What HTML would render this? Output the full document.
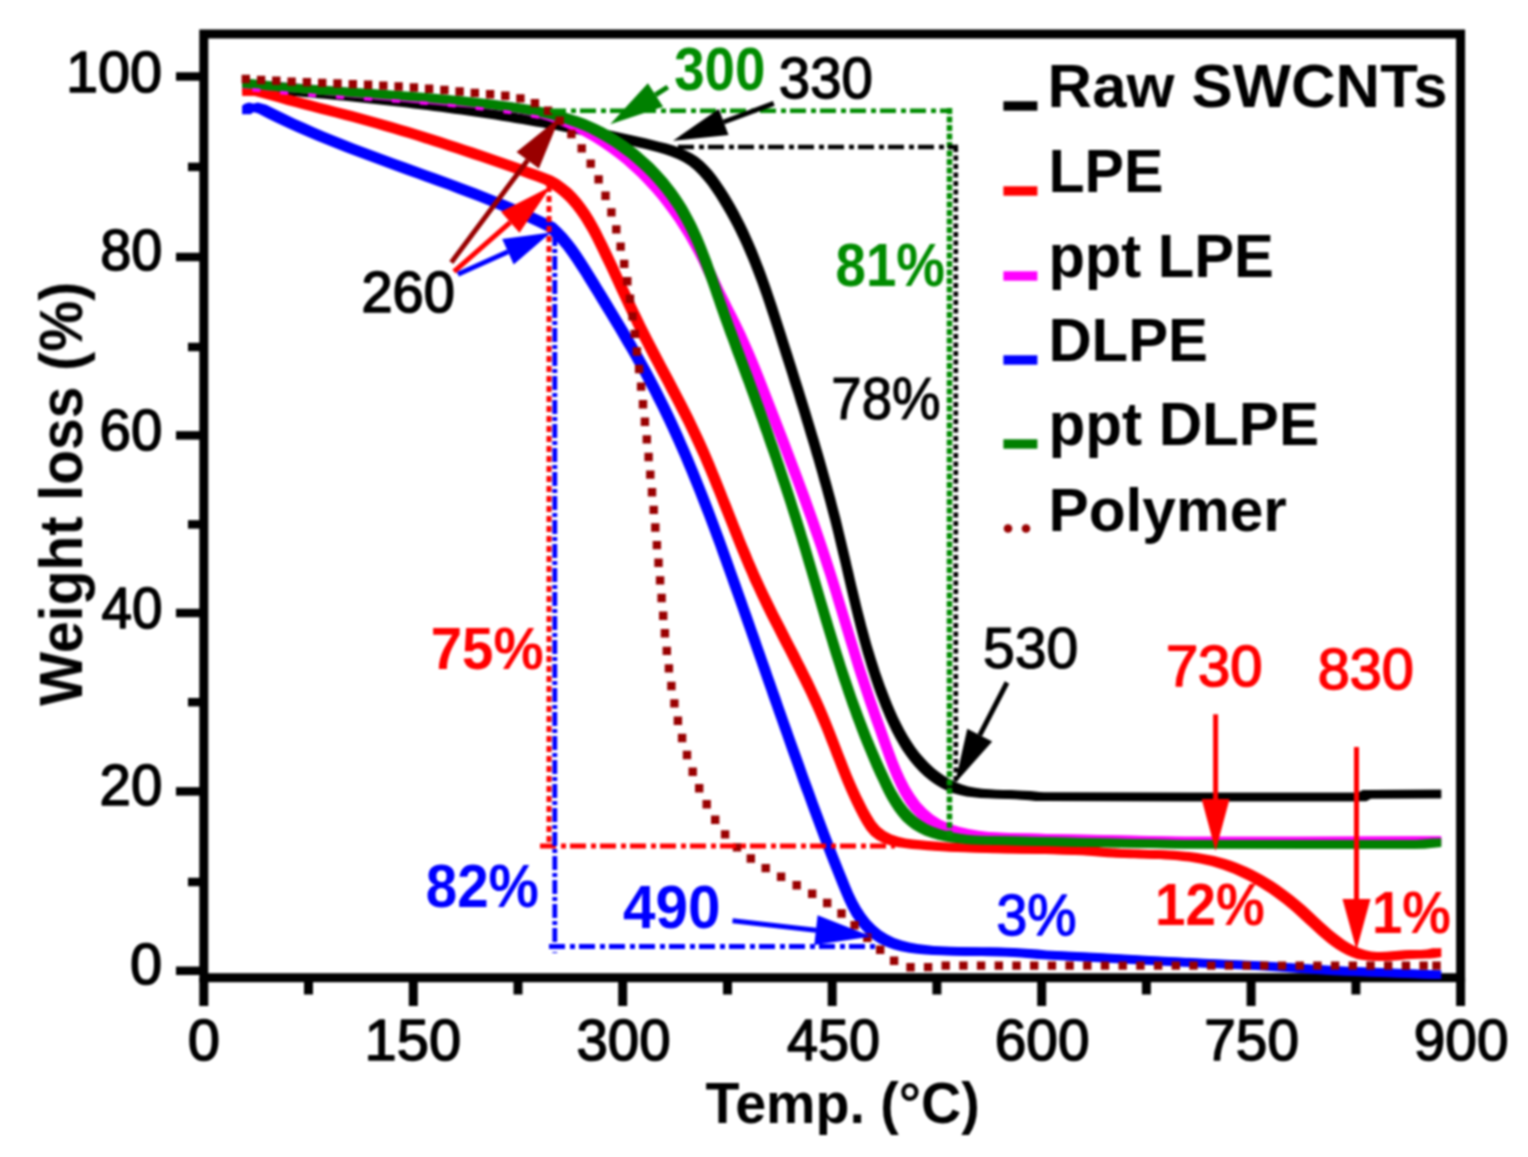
<!DOCTYPE html>
<html><head><meta charset="utf-8"><title>TGA</title>
<style>html,body{margin:0;padding:0;background:#fff}svg{display:block}text{font-family:"Liberation Sans",sans-serif}</style></head><body>
<svg width="1528" height="1157" viewBox="0 0 1528 1157">
<defs><filter id="soft" x="0" y="0" width="100%" height="100%" filterUnits="userSpaceOnUse" color-interpolation-filters="sRGB"><feGaussianBlur stdDeviation="0.9"/></filter></defs>
<rect width="100%" height="100%" fill="#fff"/>
<g filter="url(#soft)">
<rect x="203.8" y="34.0" width="1256.8" height="943.7" fill="none" stroke="#000" stroke-width="9"/>
<line x1="203.8" y1="977.7" x2="203.8" y2="1006.0" stroke="#000" stroke-width="9"/>
<line x1="308.5" y1="977.7" x2="308.5" y2="994.5" stroke="#000" stroke-width="9"/>
<line x1="413.3" y1="977.7" x2="413.3" y2="1006.0" stroke="#000" stroke-width="9"/>
<line x1="518.0" y1="977.7" x2="518.0" y2="994.5" stroke="#000" stroke-width="9"/>
<line x1="622.7" y1="977.7" x2="622.7" y2="1006.0" stroke="#000" stroke-width="9"/>
<line x1="727.5" y1="977.7" x2="727.5" y2="994.5" stroke="#000" stroke-width="9"/>
<line x1="832.2" y1="977.7" x2="832.2" y2="1006.0" stroke="#000" stroke-width="9"/>
<line x1="936.9" y1="977.7" x2="936.9" y2="994.5" stroke="#000" stroke-width="9"/>
<line x1="1041.7" y1="977.7" x2="1041.7" y2="1006.0" stroke="#000" stroke-width="9"/>
<line x1="1146.4" y1="977.7" x2="1146.4" y2="994.5" stroke="#000" stroke-width="9"/>
<line x1="1251.1" y1="977.7" x2="1251.1" y2="1006.0" stroke="#000" stroke-width="9"/>
<line x1="1355.9" y1="977.7" x2="1355.9" y2="994.5" stroke="#000" stroke-width="9"/>
<line x1="1460.6" y1="977.7" x2="1460.6" y2="1006.0" stroke="#000" stroke-width="9"/>
<line x1="176.0" y1="970.8" x2="203.8" y2="970.8" stroke="#000" stroke-width="8.5"/>
<line x1="188.0" y1="882.0" x2="203.8" y2="882.0" stroke="#000" stroke-width="8.5"/>
<line x1="176.0" y1="791.4" x2="203.8" y2="791.4" stroke="#000" stroke-width="8.5"/>
<line x1="188.0" y1="702.2" x2="203.8" y2="702.2" stroke="#000" stroke-width="8.5"/>
<line x1="176.0" y1="613.0" x2="203.8" y2="613.0" stroke="#000" stroke-width="8.5"/>
<line x1="188.0" y1="524.4" x2="203.8" y2="524.4" stroke="#000" stroke-width="8.5"/>
<line x1="176.0" y1="435.4" x2="203.8" y2="435.4" stroke="#000" stroke-width="8.5"/>
<line x1="188.0" y1="347.0" x2="203.8" y2="347.0" stroke="#000" stroke-width="8.5"/>
<line x1="176.0" y1="257.0" x2="203.8" y2="257.0" stroke="#000" stroke-width="8.5"/>
<line x1="188.0" y1="166.9" x2="203.8" y2="166.9" stroke="#000" stroke-width="8.5"/>
<line x1="176.0" y1="76.5" x2="203.8" y2="76.5" stroke="#000" stroke-width="8.5"/>
<g fill="#000"><path d="M250.7,83.2 257.6,83.7 264.5,84.3 271.4,84.8 278.4,85.4 285.2,86.0 292.1,86.6 299.0,87.2 305.9,87.7 312.8,88.4 319.6,89.0 326.5,89.6 333.4,90.2 340.2,90.9 347.1,91.6 353.9,92.2 360.8,92.9 367.6,93.6 374.4,94.3 381.3,95.1 388.1,95.8 394.9,96.6 401.7,97.3 408.5,98.1 415.3,98.9 422.2,99.8 429.0,100.6 435.8,101.5 442.6,102.3 449.4,103.2 456.2,104.1 463.0,105.1 469.7,106.0 476.5,107.0 483.3,107.9 490.1,109.0 496.9,110.0 503.7,111.0 510.5,112.1 517.3,113.2 524.0,114.3 530.8,115.4 537.6,116.6 544.4,117.8 551.2,119.0 558.0,120.2 564.7,121.5 571.5,122.8 578.3,124.1 585.1,125.4 591.9,126.7 598.7,128.1 605.5,129.5 612.3,131.0 619.1,132.5 625.9,134.0 632.7,135.5 639.5,137.0 646.3,138.6 653.1,140.2 659.9,141.9 666.6,143.6 673.3,145.6 679.8,147.8 686.0,150.4 692.0,153.4 697.6,157.0 702.8,161.2 707.6,165.9 712.2,171.1 716.5,176.5 720.5,182.2 724.4,188.0 728.1,193.8 731.7,199.8 735.2,205.8 738.5,211.8 741.7,217.9 744.8,224.1 747.8,230.3 750.6,236.5 753.4,242.8 756.1,249.1 758.7,255.5 761.2,261.9 763.7,268.3 766.1,274.7 768.4,281.2 770.7,287.7 772.9,294.2 775.1,300.8 777.3,307.3 779.4,313.9 781.5,320.4 783.6,327.0 785.7,333.6 787.8,340.2 789.9,346.8 792.0,353.3 794.1,359.9 796.2,366.5 798.2,373.1 800.3,379.7 802.4,386.2 804.4,392.8 806.5,399.4 808.5,406.0 810.5,412.6 812.5,419.2 814.5,425.8 816.5,432.4 818.5,439.0 820.4,445.6 822.4,452.2 824.3,458.8 826.2,465.4 828.0,472.1 829.9,478.7 831.7,485.3 833.5,492.0 835.3,498.6 837.0,505.2 838.8,511.9 840.5,518.6 842.1,525.2 843.7,531.9 845.3,538.6 846.9,545.3 848.5,552.0 850.1,558.7 851.6,565.4 853.2,572.1 854.7,578.7 856.3,585.4 857.9,592.1 859.5,598.8 861.1,605.5 862.8,612.2 864.5,618.8 866.2,625.5 868.0,632.1 869.8,638.7 871.7,645.4 873.7,652.0 875.7,658.6 877.8,665.1 879.9,671.7 882.2,678.3 884.5,684.8 887.0,691.3 889.5,697.8 892.1,704.2 894.8,710.6 897.7,717.0 900.8,723.3 904.0,729.4 907.4,735.4 911.0,741.3 914.8,747.0 918.9,752.4 923.3,757.6 927.9,762.6 932.9,767.3 938.1,771.6 943.7,775.6 949.5,779.1 955.5,782.1 961.9,784.6 968.4,786.5 975.2,787.8 982.1,788.7 989.1,789.3 996.1,789.7 1003.1,789.9 1010.1,790.1 1017.1,790.4 1023.9,790.7 1030.8,791.1 1037.6,791.7 1044.3,792.5 1204.3,792.7 1366.3,792.7 1371.3,790.0 1441.3,789.7 1432.7,798.3 1362.7,798.6 1357.7,801.3 1195.7,801.3 1035.7,801.1 1029.0,800.3 1022.2,799.7 1015.3,799.3 1008.5,799.0 1001.5,798.7 994.5,798.5 987.5,798.3 980.5,797.9 973.5,797.3 966.6,796.4 959.8,795.1 953.3,793.2 946.9,790.7 940.9,787.7 935.1,784.2 929.5,780.2 924.3,775.9 919.3,771.2 914.7,766.2 910.3,761.0 906.2,755.6 902.4,749.9 898.8,744.0 895.4,738.0 892.2,731.9 889.1,725.6 886.2,719.2 883.5,712.8 880.9,706.4 878.4,699.9 875.9,693.4 873.6,686.9 871.3,680.3 869.2,673.7 867.1,667.2 865.1,660.6 863.1,654.0 861.2,647.3 859.4,640.7 857.6,634.1 855.9,627.4 854.2,620.8 852.5,614.1 850.9,607.4 849.3,600.7 847.7,594.0 846.1,587.3 844.6,580.7 843.0,574.0 841.5,567.3 839.9,560.6 838.3,553.9 836.7,547.2 835.1,540.5 833.5,533.8 831.9,527.2 830.2,520.5 828.4,513.8 826.7,507.2 824.9,500.6 823.1,493.9 821.3,487.3 819.4,480.7 817.6,474.0 815.7,467.4 813.8,460.8 811.8,454.2 809.9,447.6 807.9,441.0 805.9,434.4 803.9,427.8 801.9,421.2 799.9,414.6 797.9,408.0 795.8,401.4 793.8,394.8 791.7,388.3 789.6,381.7 787.6,375.1 785.5,368.5 783.4,361.9 781.3,355.4 779.2,348.8 777.1,342.2 775.0,335.6 772.9,329.0 770.8,322.5 768.7,315.9 766.5,309.4 764.3,302.8 762.1,296.3 759.8,289.8 757.5,283.3 755.1,276.9 752.6,270.5 750.1,264.1 747.5,257.7 744.8,251.4 742.0,245.1 739.2,238.9 736.2,232.7 733.1,226.5 729.9,220.4 726.6,214.4 723.1,208.4 719.5,202.4 715.8,196.6 711.9,190.8 707.9,185.1 703.6,179.7 699.0,174.5 694.2,169.8 689.0,165.6 683.4,162.0 677.4,159.0 671.2,156.4 664.7,154.2 658.0,152.2 651.3,150.5 644.5,148.8 637.7,147.2 630.9,145.6 624.1,144.1 617.3,142.6 610.5,141.1 603.7,139.6 596.9,138.1 590.1,136.7 583.3,135.3 576.5,134.0 569.7,132.7 562.9,131.4 556.1,130.1 549.4,128.8 542.6,127.6 535.8,126.4 529.0,125.2 522.2,124.0 515.4,122.9 508.7,121.8 501.9,120.7 495.1,119.6 488.3,118.6 481.5,117.6 474.7,116.5 467.9,115.6 461.1,114.6 454.4,113.7 447.6,112.7 440.8,111.8 434.0,110.9 427.2,110.1 420.4,109.2 413.6,108.4 406.7,107.5 399.9,106.7 393.1,105.9 386.3,105.2 379.5,104.4 372.7,103.7 365.8,102.9 359.0,102.2 352.2,101.5 345.3,100.8 338.5,100.2 331.6,99.5 324.8,98.8 317.9,98.2 311.0,97.6 304.2,97.0 297.3,96.3 290.4,95.8 283.5,95.2 276.6,94.6 269.8,94.0 262.8,93.4 255.9,92.9 249.0,92.3 242.1,91.8Z"/><path d="M242.1,83.2 249.0,83.7 255.9,84.3 262.8,84.8 269.8,85.4 276.6,86.0 283.5,86.6 290.4,87.2 297.3,87.7 304.2,88.4 311.0,89.0 317.9,89.6 324.8,90.2 331.6,90.9 338.5,91.6 345.3,92.2 352.2,92.9 359.0,93.6 365.8,94.3 372.7,95.1 379.5,95.8 386.3,96.6 393.1,97.3 399.9,98.1 406.7,98.9 413.6,99.8 420.4,100.6 427.2,101.5 434.0,102.3 440.8,103.2 447.6,104.1 454.4,105.1 461.1,106.0 467.9,107.0 474.7,107.9 481.5,109.0 488.3,110.0 495.1,111.0 501.9,112.1 508.7,113.2 515.4,114.3 522.2,115.4 529.0,116.6 535.8,117.8 542.6,119.0 549.4,120.2 556.1,121.5 562.9,122.8 569.7,124.1 576.5,125.4 583.3,126.7 590.1,128.1 596.9,129.5 603.7,131.0 610.5,132.5 617.3,134.0 624.1,135.5 630.9,137.0 637.7,138.6 644.5,140.2 651.3,141.9 658.0,143.6 664.7,145.6 671.2,147.8 677.4,150.4 683.4,153.4 689.0,157.0 694.2,161.2 699.0,165.9 703.6,171.1 707.9,176.5 711.9,182.2 715.8,188.0 719.5,193.8 723.1,199.8 726.6,205.8 729.9,211.8 733.1,217.9 736.2,224.1 739.2,230.3 742.0,236.5 744.8,242.8 747.5,249.1 750.1,255.5 752.6,261.9 755.1,268.3 757.5,274.7 759.8,281.2 762.1,287.7 764.3,294.2 766.5,300.8 768.7,307.3 770.8,313.9 772.9,320.4 775.0,327.0 777.1,333.6 779.2,340.2 781.3,346.8 783.4,353.3 785.5,359.9 787.6,366.5 789.6,373.1 791.7,379.7 793.8,386.2 795.8,392.8 797.9,399.4 799.9,406.0 801.9,412.6 803.9,419.2 805.9,425.8 807.9,432.4 809.9,439.0 811.8,445.6 813.8,452.2 815.7,458.8 817.6,465.4 819.4,472.1 821.3,478.7 823.1,485.3 824.9,492.0 826.7,498.6 828.4,505.2 830.2,511.9 831.9,518.6 833.5,525.2 835.1,531.9 836.7,538.6 838.3,545.3 839.9,552.0 841.5,558.7 843.0,565.4 844.6,572.1 846.1,578.7 847.7,585.4 849.3,592.1 850.9,598.8 852.5,605.5 854.2,612.2 855.9,618.8 857.6,625.5 859.4,632.1 861.2,638.7 863.1,645.4 865.1,652.0 867.1,658.6 869.2,665.1 871.3,671.7 873.6,678.3 875.9,684.8 878.4,691.3 880.9,697.8 883.5,704.2 886.2,710.6 889.1,717.0 892.2,723.3 895.4,729.4 898.8,735.4 902.4,741.3 906.2,747.0 910.3,752.4 914.7,757.6 919.3,762.6 924.3,767.3 929.5,771.6 935.1,775.6 940.9,779.1 946.9,782.1 953.3,784.6 959.8,786.5 966.6,787.8 973.5,788.7 980.5,789.3 987.5,789.7 994.5,789.9 1001.5,790.1 1008.5,790.4 1015.3,790.7 1022.2,791.1 1029.0,791.7 1035.7,792.5 1195.7,792.7 1357.7,792.7 1362.7,790.0 1432.7,789.7 1441.3,798.3 1371.3,798.6 1366.3,801.3 1204.3,801.3 1044.3,801.1 1037.6,800.3 1030.8,799.7 1023.9,799.3 1017.1,799.0 1010.1,798.7 1003.1,798.5 996.1,798.3 989.1,797.9 982.1,797.3 975.2,796.4 968.4,795.1 961.9,793.2 955.5,790.7 949.5,787.7 943.7,784.2 938.1,780.2 932.9,775.9 927.9,771.2 923.3,766.2 918.9,761.0 914.8,755.6 911.0,749.9 907.4,744.0 904.0,738.0 900.8,731.9 897.7,725.6 894.8,719.2 892.1,712.8 889.5,706.4 887.0,699.9 884.5,693.4 882.2,686.9 879.9,680.3 877.8,673.7 875.7,667.2 873.7,660.6 871.7,654.0 869.8,647.3 868.0,640.7 866.2,634.1 864.5,627.4 862.8,620.8 861.1,614.1 859.5,607.4 857.9,600.7 856.3,594.0 854.7,587.3 853.2,580.7 851.6,574.0 850.1,567.3 848.5,560.6 846.9,553.9 845.3,547.2 843.7,540.5 842.1,533.8 840.5,527.2 838.8,520.5 837.0,513.8 835.3,507.2 833.5,500.6 831.7,493.9 829.9,487.3 828.0,480.7 826.2,474.0 824.3,467.4 822.4,460.8 820.4,454.2 818.5,447.6 816.5,441.0 814.5,434.4 812.5,427.8 810.5,421.2 808.5,414.6 806.5,408.0 804.4,401.4 802.4,394.8 800.3,388.3 798.2,381.7 796.2,375.1 794.1,368.5 792.0,361.9 789.9,355.4 787.8,348.8 785.7,342.2 783.6,335.6 781.5,329.0 779.4,322.5 777.3,315.9 775.1,309.4 772.9,302.8 770.7,296.3 768.4,289.8 766.1,283.3 763.7,276.9 761.2,270.5 758.7,264.1 756.1,257.7 753.4,251.4 750.6,245.1 747.8,238.9 744.8,232.7 741.7,226.5 738.5,220.4 735.2,214.4 731.7,208.4 728.1,202.4 724.4,196.6 720.5,190.8 716.5,185.1 712.2,179.7 707.6,174.5 702.8,169.8 697.6,165.6 692.0,162.0 686.0,159.0 679.8,156.4 673.3,154.2 666.6,152.2 659.9,150.5 653.1,148.8 646.3,147.2 639.5,145.6 632.7,144.1 625.9,142.6 619.1,141.1 612.3,139.6 605.5,138.1 598.7,136.7 591.9,135.3 585.1,134.0 578.3,132.7 571.5,131.4 564.7,130.1 558.0,128.8 551.2,127.6 544.4,126.4 537.6,125.2 530.8,124.0 524.0,122.9 517.3,121.8 510.5,120.7 503.7,119.6 496.9,118.6 490.1,117.6 483.3,116.5 476.5,115.6 469.7,114.6 463.0,113.7 456.2,112.7 449.4,111.8 442.6,110.9 435.8,110.1 429.0,109.2 422.2,108.4 415.3,107.5 408.5,106.7 401.7,105.9 394.9,105.2 388.1,104.4 381.3,103.7 374.4,102.9 367.6,102.2 360.8,101.5 353.9,100.8 347.1,100.2 340.2,99.5 333.4,98.8 326.5,98.2 319.6,97.6 312.8,97.0 305.9,96.3 299.0,95.8 292.1,95.2 285.2,94.6 278.4,94.0 271.4,93.4 264.5,92.9 257.6,92.3 250.7,91.8Z"/><path d="M242.1,83.2h8.6v8.6h-8.6ZM1432.7,789.7h8.6v8.6h-8.6Z"/></g>
<g fill="#f00"><path d="M250.7,87.2 262.3,87.2 279.3,91.7 287.4,94.0 295.5,96.3 303.6,98.5 311.7,100.6 319.8,102.7 328.0,104.8 336.1,106.9 344.3,109.0 352.4,111.1 360.5,113.2 368.6,115.4 376.7,117.7 384.8,119.9 392.9,122.3 401.0,124.7 409.0,127.1 417.0,129.5 425.1,132.0 433.1,134.6 441.1,137.1 449.1,139.7 457.1,142.3 465.1,144.9 473.1,147.6 481.1,150.3 489.1,153.0 497.0,155.7 505.0,158.4 512.9,161.2 520.8,164.0 528.7,166.9 536.6,169.8 544.5,172.7 552.3,175.7 559.0,179.6 565.1,183.9 570.8,188.6 576.0,193.7 580.8,199.2 585.2,205.0 589.4,211.0 593.3,217.3 597.0,223.7 600.5,230.2 603.8,236.9 607.1,243.6 610.3,250.3 613.5,257.0 616.7,263.7 619.8,270.4 622.9,277.2 626.0,283.9 629.2,290.6 632.3,297.3 635.4,304.0 638.6,310.7 641.8,317.3 645.0,324.0 648.3,330.6 651.7,337.2 655.1,343.8 658.5,350.3 662.0,356.9 665.4,363.5 668.9,370.0 672.4,376.5 675.8,383.1 679.3,389.7 682.7,396.2 686.1,402.8 689.5,409.4 692.8,416.0 696.0,422.7 699.2,429.4 702.3,436.1 705.4,442.8 708.4,449.5 711.3,456.3 714.2,463.1 717.0,470.0 719.8,476.8 722.6,483.7 725.3,490.5 728.0,497.4 730.8,504.3 733.5,511.2 736.2,518.0 738.9,524.9 741.7,531.8 744.4,538.7 747.2,545.5 750.1,552.3 752.9,559.2 755.9,566.0 758.8,572.8 761.9,579.5 765.0,586.2 768.2,592.9 771.4,599.6 774.7,606.3 778.0,612.9 781.4,619.5 784.8,626.1 788.2,632.8 791.6,639.4 795.0,646.0 798.4,652.6 801.7,659.2 805.1,665.8 808.4,672.4 811.7,679.1 814.9,685.7 818.0,692.4 821.1,699.1 824.1,705.8 827.0,712.6 829.9,719.4 832.6,726.2 835.3,733.1 838.0,739.9 840.6,746.8 843.3,753.7 846.0,760.6 848.7,767.5 851.5,774.4 854.4,781.2 857.4,788.0 860.6,794.9 863.9,801.6 867.4,808.4 871.1,815.1 875.1,821.4 879.8,826.9 885.3,831.2 891.5,834.4 898.3,836.7 905.5,838.4 913.0,839.5 920.6,840.3 928.1,841.0 935.7,841.6 943.2,842.2 950.6,842.7 958.1,843.1 965.5,843.4 972.8,843.7 980.2,844.0 987.6,844.2 994.9,844.4 1002.2,844.6 1009.5,844.7 1016.9,844.9 1024.2,845.0 1031.5,845.1 1038.8,845.2 1046.2,845.4 1053.6,845.5 1061.0,845.7 1068.4,845.9 1075.8,846.1 1083.3,846.4 1090.8,846.7 1098.3,847.1 1104.0,847.7 1109.8,848.2 1115.6,848.6 1121.4,848.9 1127.2,849.2 1133.0,849.4 1138.9,849.6 1144.8,849.7 1150.7,849.9 1156.5,850.1 1162.4,850.3 1168.3,850.5 1174.1,850.8 1180.0,851.2 1185.8,851.7 1191.6,852.3 1197.4,853.0 1203.1,853.9 1208.8,854.9 1214.4,856.1 1220.0,857.5 1225.6,859.1 1231.1,860.8 1236.5,862.8 1241.9,865.0 1247.2,867.3 1252.5,869.8 1257.7,872.4 1262.8,875.3 1267.8,878.2 1272.8,881.3 1277.7,884.5 1282.6,887.9 1287.3,891.4 1292.0,895.0 1296.6,898.7 1301.1,902.4 1305.5,906.3 1309.8,910.3 1314.1,914.3 1318.3,918.2 1322.6,922.2 1326.9,926.1 1331.3,929.9 1335.7,933.6 1340.3,937.1 1345.0,940.4 1349.9,943.4 1355.0,946.2 1360.2,948.5 1365.7,950.3 1371.3,951.4 1377.0,952.0 1382.9,952.2 1388.8,952.1 1394.7,951.8 1400.7,951.3 1406.6,950.7 1412.5,950.3 1418.3,950.0 1423.9,949.9 1429.6,949.9 1435.3,949.5 1441.3,948.3 1432.7,956.9 1426.7,958.1 1421.0,958.5 1415.3,958.5 1409.7,958.6 1403.9,958.9 1398.0,959.3 1392.1,959.9 1386.1,960.4 1380.2,960.7 1374.3,960.8 1368.4,960.6 1362.7,960.0 1357.1,958.9 1351.6,957.1 1346.4,954.8 1341.3,952.0 1336.4,949.0 1331.7,945.7 1327.1,942.2 1322.7,938.5 1318.3,934.7 1314.0,930.8 1309.7,926.8 1305.5,922.9 1301.2,918.9 1296.9,914.9 1292.5,911.0 1288.0,907.3 1283.4,903.6 1278.7,900.0 1274.0,896.5 1269.1,893.1 1264.2,889.9 1259.2,886.8 1254.2,883.9 1249.1,881.0 1243.9,878.4 1238.6,875.9 1233.3,873.6 1227.9,871.4 1222.5,869.4 1217.0,867.7 1211.4,866.1 1205.8,864.7 1200.2,863.5 1194.5,862.5 1188.8,861.6 1183.0,860.9 1177.2,860.3 1171.4,859.8 1165.5,859.4 1159.7,859.1 1153.8,858.9 1147.9,858.7 1142.1,858.5 1136.2,858.3 1130.3,858.2 1124.4,858.0 1118.6,857.8 1112.8,857.5 1107.0,857.2 1101.2,856.8 1095.4,856.3 1089.7,855.7 1082.2,855.3 1074.7,855.0 1067.2,854.7 1059.8,854.5 1052.4,854.3 1045.0,854.1 1037.6,854.0 1030.2,853.8 1022.9,853.7 1015.6,853.6 1008.3,853.5 1000.9,853.3 993.6,853.2 986.3,853.0 979.0,852.8 971.6,852.6 964.2,852.3 956.9,852.0 949.5,851.7 942.0,851.3 934.6,850.8 927.1,850.2 919.5,849.6 912.0,848.9 904.4,848.1 896.9,847.0 889.7,845.3 882.9,843.0 876.7,839.8 871.2,835.5 866.5,830.0 862.5,823.7 858.8,817.0 855.3,810.2 852.0,803.5 848.8,796.6 845.8,789.8 842.9,783.0 840.1,776.1 837.4,769.2 834.7,762.3 832.0,755.4 829.4,748.5 826.7,741.7 824.0,734.8 821.3,728.0 818.4,721.2 815.5,714.4 812.5,707.7 809.4,701.0 806.3,694.3 803.1,687.7 799.8,681.0 796.5,674.4 793.1,667.8 789.8,661.2 786.4,654.6 783.0,648.0 779.6,641.4 776.2,634.7 772.8,628.1 769.4,621.5 766.1,614.9 762.8,608.2 759.6,601.5 756.4,594.8 753.3,588.1 750.2,581.4 747.3,574.6 744.3,567.8 741.5,560.9 738.6,554.1 735.8,547.3 733.1,540.4 730.3,533.5 727.6,526.6 724.9,519.8 722.2,512.9 719.4,506.0 716.7,499.1 714.0,492.3 711.2,485.4 708.4,478.6 705.6,471.7 702.7,464.9 699.8,458.1 696.8,451.4 693.7,444.7 690.6,438.0 687.4,431.3 684.2,424.6 680.9,418.0 677.5,411.4 674.1,404.8 670.7,398.3 667.2,391.7 663.8,385.1 660.3,378.6 656.8,372.1 653.4,365.5 649.9,358.9 646.5,352.4 643.1,345.8 639.7,339.2 636.4,332.6 633.2,325.9 630.0,319.3 626.8,312.6 623.7,305.9 620.6,299.2 617.4,292.5 614.3,285.8 611.2,279.0 608.1,272.3 604.9,265.6 601.7,258.9 598.5,252.2 595.2,245.5 591.9,238.8 588.4,232.3 584.7,225.9 580.8,219.6 576.6,213.6 572.2,207.8 567.4,202.3 562.2,197.2 556.5,192.5 550.4,188.2 543.7,184.3 535.9,181.3 528.0,178.4 520.1,175.5 512.2,172.6 504.3,169.8 496.4,167.0 488.4,164.3 480.5,161.6 472.5,158.9 464.5,156.2 456.5,153.5 448.5,150.9 440.5,148.3 432.5,145.7 424.5,143.2 416.5,140.6 408.4,138.1 400.4,135.7 392.4,133.3 384.3,130.9 376.2,128.5 368.1,126.3 360.0,124.0 351.9,121.8 343.8,119.7 335.7,117.6 327.5,115.5 319.4,113.4 311.2,111.3 303.1,109.2 295.0,107.1 286.9,104.9 278.8,102.6 270.7,100.3 253.7,95.8 242.1,95.8Z"/><path d="M242.1,87.2 253.7,87.2 270.7,91.7 278.8,94.0 286.9,96.3 295.0,98.5 303.1,100.6 311.2,102.7 319.4,104.8 327.5,106.9 335.7,109.0 343.8,111.1 351.9,113.2 360.0,115.4 368.1,117.7 376.2,119.9 384.3,122.3 392.4,124.7 400.4,127.1 408.4,129.5 416.5,132.0 424.5,134.6 432.5,137.1 440.5,139.7 448.5,142.3 456.5,144.9 464.5,147.6 472.5,150.3 480.5,153.0 488.4,155.7 496.4,158.4 504.3,161.2 512.2,164.0 520.1,166.9 528.0,169.8 535.9,172.7 543.7,175.7 550.4,179.6 556.5,183.9 562.2,188.6 567.4,193.7 572.2,199.2 576.6,205.0 580.8,211.0 584.7,217.3 588.4,223.7 591.9,230.2 595.2,236.9 598.5,243.6 601.7,250.3 604.9,257.0 608.1,263.7 611.2,270.4 614.3,277.2 617.4,283.9 620.6,290.6 623.7,297.3 626.8,304.0 630.0,310.7 633.2,317.3 636.4,324.0 639.7,330.6 643.1,337.2 646.5,343.8 649.9,350.3 653.4,356.9 656.8,363.5 660.3,370.0 663.8,376.5 667.2,383.1 670.7,389.7 674.1,396.2 677.5,402.8 680.9,409.4 684.2,416.0 687.4,422.7 690.6,429.4 693.7,436.1 696.8,442.8 699.8,449.5 702.7,456.3 705.6,463.1 708.4,470.0 711.2,476.8 714.0,483.7 716.7,490.5 719.4,497.4 722.2,504.3 724.9,511.2 727.6,518.0 730.3,524.9 733.1,531.8 735.8,538.7 738.6,545.5 741.5,552.3 744.3,559.2 747.3,566.0 750.2,572.8 753.3,579.5 756.4,586.2 759.6,592.9 762.8,599.6 766.1,606.3 769.4,612.9 772.8,619.5 776.2,626.1 779.6,632.8 783.0,639.4 786.4,646.0 789.8,652.6 793.1,659.2 796.5,665.8 799.8,672.4 803.1,679.1 806.3,685.7 809.4,692.4 812.5,699.1 815.5,705.8 818.4,712.6 821.3,719.4 824.0,726.2 826.7,733.1 829.4,739.9 832.0,746.8 834.7,753.7 837.4,760.6 840.1,767.5 842.9,774.4 845.8,781.2 848.8,788.0 852.0,794.9 855.3,801.6 858.8,808.4 862.5,815.1 866.5,821.4 871.2,826.9 876.7,831.2 882.9,834.4 889.7,836.7 896.9,838.4 904.4,839.5 912.0,840.3 919.5,841.0 927.1,841.6 934.6,842.2 942.0,842.7 949.5,843.1 956.9,843.4 964.2,843.7 971.6,844.0 979.0,844.2 986.3,844.4 993.6,844.6 1000.9,844.7 1008.3,844.9 1015.6,845.0 1022.9,845.1 1030.2,845.2 1037.6,845.4 1045.0,845.5 1052.4,845.7 1059.8,845.9 1067.2,846.1 1074.7,846.4 1082.2,846.7 1089.7,847.1 1095.4,847.7 1101.2,848.2 1107.0,848.6 1112.8,848.9 1118.6,849.2 1124.4,849.4 1130.3,849.6 1136.2,849.7 1142.1,849.9 1147.9,850.1 1153.8,850.3 1159.7,850.5 1165.5,850.8 1171.4,851.2 1177.2,851.7 1183.0,852.3 1188.8,853.0 1194.5,853.9 1200.2,854.9 1205.8,856.1 1211.4,857.5 1217.0,859.1 1222.5,860.8 1227.9,862.8 1233.3,865.0 1238.6,867.3 1243.9,869.8 1249.1,872.4 1254.2,875.3 1259.2,878.2 1264.2,881.3 1269.1,884.5 1274.0,887.9 1278.7,891.4 1283.4,895.0 1288.0,898.7 1292.5,902.4 1296.9,906.3 1301.2,910.3 1305.5,914.3 1309.7,918.2 1314.0,922.2 1318.3,926.1 1322.7,929.9 1327.1,933.6 1331.7,937.1 1336.4,940.4 1341.3,943.4 1346.4,946.2 1351.6,948.5 1357.1,950.3 1362.7,951.4 1368.4,952.0 1374.3,952.2 1380.2,952.1 1386.1,951.8 1392.1,951.3 1398.0,950.7 1403.9,950.3 1409.7,950.0 1415.3,949.9 1421.0,949.9 1426.7,949.5 1432.7,948.3 1441.3,956.9 1435.3,958.1 1429.6,958.5 1423.9,958.5 1418.3,958.6 1412.5,958.9 1406.6,959.3 1400.7,959.9 1394.7,960.4 1388.8,960.7 1382.9,960.8 1377.0,960.6 1371.3,960.0 1365.7,958.9 1360.2,957.1 1355.0,954.8 1349.9,952.0 1345.0,949.0 1340.3,945.7 1335.7,942.2 1331.3,938.5 1326.9,934.7 1322.6,930.8 1318.3,926.8 1314.1,922.9 1309.8,918.9 1305.5,914.9 1301.1,911.0 1296.6,907.3 1292.0,903.6 1287.3,900.0 1282.6,896.5 1277.7,893.1 1272.8,889.9 1267.8,886.8 1262.8,883.9 1257.7,881.0 1252.5,878.4 1247.2,875.9 1241.9,873.6 1236.5,871.4 1231.1,869.4 1225.6,867.7 1220.0,866.1 1214.4,864.7 1208.8,863.5 1203.1,862.5 1197.4,861.6 1191.6,860.9 1185.8,860.3 1180.0,859.8 1174.1,859.4 1168.3,859.1 1162.4,858.9 1156.5,858.7 1150.7,858.5 1144.8,858.3 1138.9,858.2 1133.0,858.0 1127.2,857.8 1121.4,857.5 1115.6,857.2 1109.8,856.8 1104.0,856.3 1098.3,855.7 1090.8,855.3 1083.3,855.0 1075.8,854.7 1068.4,854.5 1061.0,854.3 1053.6,854.1 1046.2,854.0 1038.8,853.8 1031.5,853.7 1024.2,853.6 1016.9,853.5 1009.5,853.3 1002.2,853.2 994.9,853.0 987.6,852.8 980.2,852.6 972.8,852.3 965.5,852.0 958.1,851.7 950.6,851.3 943.2,850.8 935.7,850.2 928.1,849.6 920.6,848.9 913.0,848.1 905.5,847.0 898.3,845.3 891.5,843.0 885.3,839.8 879.8,835.5 875.1,830.0 871.1,823.7 867.4,817.0 863.9,810.2 860.6,803.5 857.4,796.6 854.4,789.8 851.5,783.0 848.7,776.1 846.0,769.2 843.3,762.3 840.6,755.4 838.0,748.5 835.3,741.7 832.6,734.8 829.9,728.0 827.0,721.2 824.1,714.4 821.1,707.7 818.0,701.0 814.9,694.3 811.7,687.7 808.4,681.0 805.1,674.4 801.7,667.8 798.4,661.2 795.0,654.6 791.6,648.0 788.2,641.4 784.8,634.7 781.4,628.1 778.0,621.5 774.7,614.9 771.4,608.2 768.2,601.5 765.0,594.8 761.9,588.1 758.8,581.4 755.9,574.6 752.9,567.8 750.1,560.9 747.2,554.1 744.4,547.3 741.7,540.4 738.9,533.5 736.2,526.6 733.5,519.8 730.8,512.9 728.0,506.0 725.3,499.1 722.6,492.3 719.8,485.4 717.0,478.6 714.2,471.7 711.3,464.9 708.4,458.1 705.4,451.4 702.3,444.7 699.2,438.0 696.0,431.3 692.8,424.6 689.5,418.0 686.1,411.4 682.7,404.8 679.3,398.3 675.8,391.7 672.4,385.1 668.9,378.6 665.4,372.1 662.0,365.5 658.5,358.9 655.1,352.4 651.7,345.8 648.3,339.2 645.0,332.6 641.8,325.9 638.6,319.3 635.4,312.6 632.3,305.9 629.2,299.2 626.0,292.5 622.9,285.8 619.8,279.0 616.7,272.3 613.5,265.6 610.3,258.9 607.1,252.2 603.8,245.5 600.5,238.8 597.0,232.3 593.3,225.9 589.4,219.6 585.2,213.6 580.8,207.8 576.0,202.3 570.8,197.2 565.1,192.5 559.0,188.2 552.3,184.3 544.5,181.3 536.6,178.4 528.7,175.5 520.8,172.6 512.9,169.8 505.0,167.0 497.0,164.3 489.1,161.6 481.1,158.9 473.1,156.2 465.1,153.5 457.1,150.9 449.1,148.3 441.1,145.7 433.1,143.2 425.1,140.6 417.0,138.1 409.0,135.7 401.0,133.3 392.9,130.9 384.8,128.5 376.7,126.3 368.6,124.0 360.5,121.8 352.4,119.7 344.3,117.6 336.1,115.5 328.0,113.4 319.8,111.3 311.7,109.2 303.6,107.1 295.5,104.9 287.4,102.6 279.3,100.3 262.3,95.8 250.7,95.8Z"/><path d="M242.1,87.2h8.6v8.6h-8.6ZM1432.7,948.3h8.6v8.6h-8.6Z"/></g>
<g fill="#f0f"><path d="M250.7,79.7 260.4,80.5 270.0,81.3 279.7,82.1 289.3,82.9 298.9,83.7 308.5,84.5 318.1,85.3 327.7,86.1 337.3,86.9 346.9,87.8 356.4,88.6 366.0,89.4 375.6,90.2 385.2,91.1 394.8,91.9 404.3,92.7 413.9,93.5 423.5,94.3 433.1,95.2 442.8,96.0 452.4,96.8 462.1,97.6 471.7,98.4 481.4,99.2 491.1,100.1 500.7,101.1 510.4,102.3 519.9,103.7 529.4,105.4 538.8,107.3 548.1,109.7 557.3,112.5 566.3,115.7 575.2,119.3 584.0,123.4 592.5,127.8 600.9,132.7 609.1,137.8 617.1,143.3 624.9,149.1 632.4,155.2 639.6,161.6 646.7,168.2 653.4,175.1 659.9,182.2 666.2,189.5 672.2,197.1 678.0,204.8 683.5,212.7 688.8,220.8 693.8,229.0 698.6,237.4 703.2,245.9 707.5,254.5 711.6,263.3 715.6,272.0 719.6,280.8 723.7,289.5 728.0,298.1 732.3,306.7 736.7,315.3 741.0,323.9 745.1,332.6 749.1,341.4 753.0,350.2 756.7,359.1 760.4,368.0 764.0,377.0 767.5,386.0 771.0,395.0 774.5,404.0 778.0,413.0 781.5,422.0 785.0,431.0 788.5,440.0 791.9,449.0 795.3,458.0 798.7,467.0 802.1,476.0 805.4,485.0 808.8,494.1 812.0,503.1 815.3,512.2 818.5,521.3 821.7,530.4 824.8,539.5 827.9,548.7 830.9,557.8 833.9,567.0 836.8,576.2 839.7,585.5 842.5,594.8 845.3,604.0 848.1,613.3 850.9,622.6 853.7,631.8 856.5,641.0 859.3,650.2 862.1,659.4 865.0,668.5 868.0,677.5 871.0,686.5 874.0,695.4 877.2,704.4 880.3,713.4 883.6,722.4 886.8,731.6 890.1,740.9 893.5,750.3 897.0,759.7 900.8,769.0 904.9,778.0 909.4,786.7 914.4,794.8 920.0,802.4 926.2,809.1 933.2,815.0 941.1,819.9 949.7,823.8 959.0,826.8 968.8,829.1 978.9,830.8 989.2,831.9 999.5,832.6 1009.7,833.0 1019.6,833.2 1029.0,833.4 1037.9,833.6 1046.1,834.0 1104.3,835.0 1184.3,836.7 1304.3,836.7 1441.3,836.2 1432.7,844.8 1295.7,845.3 1175.7,845.3 1095.7,843.6 1037.5,842.6 1029.3,842.2 1020.4,842.0 1011.0,841.8 1001.1,841.6 990.9,841.2 980.6,840.5 970.3,839.4 960.2,837.7 950.4,835.4 941.1,832.4 932.5,828.5 924.6,823.6 917.6,817.7 911.4,811.0 905.8,803.4 900.8,795.3 896.3,786.6 892.2,777.6 888.4,768.3 884.9,758.9 881.5,749.5 878.2,740.2 875.0,731.0 871.7,722.0 868.6,713.0 865.4,704.0 862.4,695.1 859.4,686.1 856.4,677.1 853.5,668.0 850.7,658.8 847.9,649.6 845.1,640.4 842.3,631.2 839.5,621.9 836.7,612.6 833.9,603.4 831.1,594.1 828.2,584.8 825.3,575.6 822.3,566.4 819.3,557.3 816.2,548.1 813.1,539.0 809.9,529.9 806.7,520.8 803.4,511.7 800.2,502.7 796.8,493.6 793.5,484.6 790.1,475.6 786.7,466.6 783.3,457.6 779.9,448.6 776.4,439.6 772.9,430.6 769.4,421.6 765.9,412.6 762.4,403.6 758.9,394.6 755.4,385.6 751.8,376.6 748.1,367.7 744.4,358.8 740.5,350.0 736.5,341.2 732.4,332.5 728.1,323.9 723.7,315.3 719.4,306.7 715.1,298.1 711.0,289.4 707.0,280.6 703.0,271.9 698.9,263.1 694.6,254.5 690.0,246.0 685.2,237.6 680.2,229.4 674.9,221.3 669.4,213.4 663.6,205.7 657.6,198.1 651.3,190.8 644.8,183.7 638.1,176.8 631.0,170.2 623.8,163.8 616.3,157.7 608.5,151.9 600.5,146.4 592.3,141.3 583.9,136.4 575.4,132.0 566.6,127.9 557.7,124.3 548.7,121.1 539.5,118.3 530.2,115.9 520.8,114.0 511.3,112.3 501.8,110.9 492.1,109.7 482.5,108.7 472.8,107.8 463.1,107.0 453.5,106.2 443.8,105.4 434.2,104.6 424.5,103.8 414.9,102.9 405.3,102.1 395.7,101.3 386.2,100.5 376.6,99.7 367.0,98.8 357.4,98.0 347.8,97.2 338.3,96.4 328.7,95.5 319.1,94.7 309.5,93.9 299.9,93.1 290.3,92.3 280.7,91.5 271.1,90.7 261.4,89.9 251.8,89.1 242.1,88.3Z"/><path d="M242.1,79.7 251.8,80.5 261.4,81.3 271.1,82.1 280.7,82.9 290.3,83.7 299.9,84.5 309.5,85.3 319.1,86.1 328.7,86.9 338.3,87.8 347.8,88.6 357.4,89.4 367.0,90.2 376.6,91.1 386.2,91.9 395.7,92.7 405.3,93.5 414.9,94.3 424.5,95.2 434.2,96.0 443.8,96.8 453.5,97.6 463.1,98.4 472.8,99.2 482.5,100.1 492.1,101.1 501.8,102.3 511.3,103.7 520.8,105.4 530.2,107.3 539.5,109.7 548.7,112.5 557.7,115.7 566.6,119.3 575.4,123.4 583.9,127.8 592.3,132.7 600.5,137.8 608.5,143.3 616.3,149.1 623.8,155.2 631.0,161.6 638.1,168.2 644.8,175.1 651.3,182.2 657.6,189.5 663.6,197.1 669.4,204.8 674.9,212.7 680.2,220.8 685.2,229.0 690.0,237.4 694.6,245.9 698.9,254.5 703.0,263.3 707.0,272.0 711.0,280.8 715.1,289.5 719.4,298.1 723.7,306.7 728.1,315.3 732.4,323.9 736.5,332.6 740.5,341.4 744.4,350.2 748.1,359.1 751.8,368.0 755.4,377.0 758.9,386.0 762.4,395.0 765.9,404.0 769.4,413.0 772.9,422.0 776.4,431.0 779.9,440.0 783.3,449.0 786.7,458.0 790.1,467.0 793.5,476.0 796.8,485.0 800.2,494.1 803.4,503.1 806.7,512.2 809.9,521.3 813.1,530.4 816.2,539.5 819.3,548.7 822.3,557.8 825.3,567.0 828.2,576.2 831.1,585.5 833.9,594.8 836.7,604.0 839.5,613.3 842.3,622.6 845.1,631.8 847.9,641.0 850.7,650.2 853.5,659.4 856.4,668.5 859.4,677.5 862.4,686.5 865.4,695.4 868.6,704.4 871.7,713.4 875.0,722.4 878.2,731.6 881.5,740.9 884.9,750.3 888.4,759.7 892.2,769.0 896.3,778.0 900.8,786.7 905.8,794.8 911.4,802.4 917.6,809.1 924.6,815.0 932.5,819.9 941.1,823.8 950.4,826.8 960.2,829.1 970.3,830.8 980.6,831.9 990.9,832.6 1001.1,833.0 1011.0,833.2 1020.4,833.4 1029.3,833.6 1037.5,834.0 1095.7,835.0 1175.7,836.7 1295.7,836.7 1432.7,836.2 1441.3,844.8 1304.3,845.3 1184.3,845.3 1104.3,843.6 1046.1,842.6 1037.9,842.2 1029.0,842.0 1019.6,841.8 1009.7,841.6 999.5,841.2 989.2,840.5 978.9,839.4 968.8,837.7 959.0,835.4 949.7,832.4 941.1,828.5 933.2,823.6 926.2,817.7 920.0,811.0 914.4,803.4 909.4,795.3 904.9,786.6 900.8,777.6 897.0,768.3 893.5,758.9 890.1,749.5 886.8,740.2 883.6,731.0 880.3,722.0 877.2,713.0 874.0,704.0 871.0,695.1 868.0,686.1 865.0,677.1 862.1,668.0 859.3,658.8 856.5,649.6 853.7,640.4 850.9,631.2 848.1,621.9 845.3,612.6 842.5,603.4 839.7,594.1 836.8,584.8 833.9,575.6 830.9,566.4 827.9,557.3 824.8,548.1 821.7,539.0 818.5,529.9 815.3,520.8 812.0,511.7 808.8,502.7 805.4,493.6 802.1,484.6 798.7,475.6 795.3,466.6 791.9,457.6 788.5,448.6 785.0,439.6 781.5,430.6 778.0,421.6 774.5,412.6 771.0,403.6 767.5,394.6 764.0,385.6 760.4,376.6 756.7,367.7 753.0,358.8 749.1,350.0 745.1,341.2 741.0,332.5 736.7,323.9 732.3,315.3 728.0,306.7 723.7,298.1 719.6,289.4 715.6,280.6 711.6,271.9 707.5,263.1 703.2,254.5 698.6,246.0 693.8,237.6 688.8,229.4 683.5,221.3 678.0,213.4 672.2,205.7 666.2,198.1 659.9,190.8 653.4,183.7 646.7,176.8 639.6,170.2 632.4,163.8 624.9,157.7 617.1,151.9 609.1,146.4 600.9,141.3 592.5,136.4 584.0,132.0 575.2,127.9 566.3,124.3 557.3,121.1 548.1,118.3 538.8,115.9 529.4,114.0 519.9,112.3 510.4,110.9 500.7,109.7 491.1,108.7 481.4,107.8 471.7,107.0 462.1,106.2 452.4,105.4 442.8,104.6 433.1,103.8 423.5,102.9 413.9,102.1 404.3,101.3 394.8,100.5 385.2,99.7 375.6,98.8 366.0,98.0 356.4,97.2 346.9,96.4 337.3,95.5 327.7,94.7 318.1,93.9 308.5,93.1 298.9,92.3 289.3,91.5 279.7,90.7 270.0,89.9 260.4,89.1 250.7,88.3Z"/><path d="M242.1,79.7h8.6v8.6h-8.6ZM1432.7,836.2h8.6v8.6h-8.6Z"/></g>
<g fill="#00f"><path d="M250.7,105.7 253.3,103.7 257.7,102.5 266.3,104.7 275.9,109.6 285.6,114.3 295.3,118.9 305.1,123.3 315.0,127.7 324.9,131.9 334.9,135.9 344.9,139.9 354.9,143.9 365.0,147.7 375.1,151.5 385.2,155.2 395.3,158.9 405.4,162.6 415.6,166.3 425.7,169.9 435.8,173.6 446.0,177.3 456.1,181.0 466.1,184.8 476.2,188.6 486.2,192.5 496.2,196.5 506.2,200.6 516.1,204.7 525.9,209.0 535.7,213.4 545.4,218.0 555.1,222.7 561.0,228.3 566.5,234.1 571.7,240.2 576.5,246.6 581.0,253.1 585.4,259.8 589.7,266.5 593.9,273.3 598.1,280.1 602.3,287.0 606.5,293.8 610.6,300.6 614.8,307.5 619.0,314.4 623.1,321.2 627.2,328.1 631.2,335.1 635.3,342.0 639.3,349.0 643.2,356.0 647.1,363.0 651.0,370.0 654.7,377.1 658.5,384.2 662.1,391.3 665.7,398.4 669.2,405.6 672.7,412.8 676.1,420.1 679.4,427.3 682.7,434.6 685.9,441.9 689.1,449.2 692.2,456.6 695.3,463.9 698.3,471.3 701.3,478.7 704.3,486.2 707.2,493.6 710.1,501.1 713.0,508.5 715.8,516.0 718.6,523.5 721.4,531.0 724.2,538.5 726.9,546.1 729.6,553.6 732.3,561.1 735.0,568.7 737.7,576.3 740.4,583.8 743.1,591.4 745.8,598.9 748.4,606.5 751.1,614.1 753.8,621.7 756.4,629.2 759.1,636.8 761.7,644.4 764.4,651.9 767.0,659.5 769.7,667.1 772.3,674.7 775.0,682.2 777.6,689.8 780.3,697.3 782.9,704.9 785.6,712.4 788.2,720.0 790.9,727.5 793.5,735.0 796.2,742.6 798.9,750.1 801.6,757.6 804.3,765.1 806.9,772.6 809.6,780.1 812.4,787.5 815.1,795.0 817.8,802.5 820.6,810.0 823.4,817.4 826.2,824.9 829.0,832.4 831.9,839.9 834.8,847.4 837.7,854.9 840.7,862.5 843.7,870.0 846.8,877.6 849.9,885.2 853.1,892.7 856.6,900.0 860.5,907.1 864.9,913.7 869.7,919.9 875.1,925.6 881.0,930.5 887.4,934.6 894.4,938.0 901.8,940.6 909.5,942.6 917.5,944.1 925.6,945.1 933.9,945.9 942.1,946.4 950.3,946.7 958.4,947.0 966.4,947.2 974.4,947.3 982.4,947.4 990.3,947.4 998.3,947.6 1006.2,947.7 1014.1,948.0 1022.1,948.4 1030.0,948.9 1038.0,949.6 1046.1,950.5 1098.3,953.1 1154.3,956.2 1204.3,958.7 1264.3,961.4 1342.7,966.6 1441.3,970.5 1432.7,979.1 1334.1,975.2 1255.7,970.0 1195.7,967.3 1145.7,964.8 1089.7,961.7 1037.5,959.1 1029.4,958.2 1021.4,957.5 1013.5,957.0 1005.5,956.6 997.6,956.3 989.7,956.2 981.7,956.0 973.8,956.0 965.8,955.9 957.8,955.8 949.8,955.6 941.7,955.3 933.5,955.0 925.3,954.5 917.0,953.7 908.9,952.7 900.9,951.2 893.2,949.2 885.8,946.6 878.8,943.2 872.4,939.1 866.5,934.2 861.1,928.5 856.3,922.3 851.9,915.7 848.0,908.6 844.5,901.3 841.3,893.8 838.2,886.2 835.1,878.6 832.1,871.1 829.1,863.5 826.2,856.0 823.3,848.5 820.4,841.0 817.6,833.5 814.8,826.0 812.0,818.6 809.2,811.1 806.5,803.6 803.8,796.1 801.0,788.7 798.3,781.2 795.7,773.7 793.0,766.2 790.3,758.7 787.6,751.2 784.9,743.6 782.3,736.1 779.6,728.6 777.0,721.0 774.3,713.5 771.7,705.9 769.0,698.4 766.4,690.8 763.7,683.3 761.1,675.7 758.4,668.1 755.8,660.5 753.1,653.0 750.5,645.4 747.8,637.8 745.2,630.3 742.5,622.7 739.8,615.1 737.2,607.5 734.5,600.0 731.8,592.4 729.1,584.9 726.4,577.3 723.7,569.7 721.0,562.2 718.3,554.7 715.6,547.1 712.8,539.6 710.0,532.1 707.2,524.6 704.4,517.1 701.5,509.7 698.6,502.2 695.7,494.8 692.7,487.3 689.7,479.9 686.7,472.5 683.6,465.2 680.5,457.8 677.3,450.5 674.1,443.2 670.8,435.9 667.5,428.7 664.1,421.4 660.6,414.2 657.1,407.0 653.5,399.9 649.9,392.8 646.1,385.7 642.4,378.6 638.5,371.6 634.6,364.6 630.7,357.6 626.7,350.6 622.6,343.7 618.6,336.7 614.5,329.8 610.4,323.0 606.2,316.1 602.0,309.2 597.9,302.4 593.7,295.6 589.5,288.7 585.3,281.9 581.1,275.1 576.8,268.4 572.4,261.7 567.9,255.2 563.1,248.8 557.9,242.7 552.4,236.9 546.5,231.3 536.8,226.6 527.1,222.0 517.3,217.6 507.5,213.3 497.6,209.2 487.6,205.1 477.6,201.1 467.6,197.2 457.5,193.4 447.5,189.6 437.4,185.9 427.2,182.2 417.1,178.5 407.0,174.9 396.8,171.2 386.7,167.5 376.6,163.8 366.5,160.1 356.4,156.3 346.3,152.5 336.3,148.5 326.3,144.5 316.3,140.5 306.4,136.3 296.5,131.9 286.7,127.5 277.0,122.9 267.3,118.2 257.7,113.3 249.1,111.1 244.7,112.3 242.1,114.3Z"/><path d="M242.1,105.7 244.7,103.7 249.1,102.5 257.7,104.7 267.3,109.6 277.0,114.3 286.7,118.9 296.5,123.3 306.4,127.7 316.3,131.9 326.3,135.9 336.3,139.9 346.3,143.9 356.4,147.7 366.5,151.5 376.6,155.2 386.7,158.9 396.8,162.6 407.0,166.3 417.1,169.9 427.2,173.6 437.4,177.3 447.5,181.0 457.5,184.8 467.6,188.6 477.6,192.5 487.6,196.5 497.6,200.6 507.5,204.7 517.3,209.0 527.1,213.4 536.8,218.0 546.5,222.7 552.4,228.3 557.9,234.1 563.1,240.2 567.9,246.6 572.4,253.1 576.8,259.8 581.1,266.5 585.3,273.3 589.5,280.1 593.7,287.0 597.9,293.8 602.0,300.6 606.2,307.5 610.4,314.4 614.5,321.2 618.6,328.1 622.6,335.1 626.7,342.0 630.7,349.0 634.6,356.0 638.5,363.0 642.4,370.0 646.1,377.1 649.9,384.2 653.5,391.3 657.1,398.4 660.6,405.6 664.1,412.8 667.5,420.1 670.8,427.3 674.1,434.6 677.3,441.9 680.5,449.2 683.6,456.6 686.7,463.9 689.7,471.3 692.7,478.7 695.7,486.2 698.6,493.6 701.5,501.1 704.4,508.5 707.2,516.0 710.0,523.5 712.8,531.0 715.6,538.5 718.3,546.1 721.0,553.6 723.7,561.1 726.4,568.7 729.1,576.3 731.8,583.8 734.5,591.4 737.2,598.9 739.8,606.5 742.5,614.1 745.2,621.7 747.8,629.2 750.5,636.8 753.1,644.4 755.8,651.9 758.4,659.5 761.1,667.1 763.7,674.7 766.4,682.2 769.0,689.8 771.7,697.3 774.3,704.9 777.0,712.4 779.6,720.0 782.3,727.5 784.9,735.0 787.6,742.6 790.3,750.1 793.0,757.6 795.7,765.1 798.3,772.6 801.0,780.1 803.8,787.5 806.5,795.0 809.2,802.5 812.0,810.0 814.8,817.4 817.6,824.9 820.4,832.4 823.3,839.9 826.2,847.4 829.1,854.9 832.1,862.5 835.1,870.0 838.2,877.6 841.3,885.2 844.5,892.7 848.0,900.0 851.9,907.1 856.3,913.7 861.1,919.9 866.5,925.6 872.4,930.5 878.8,934.6 885.8,938.0 893.2,940.6 900.9,942.6 908.9,944.1 917.0,945.1 925.3,945.9 933.5,946.4 941.7,946.7 949.8,947.0 957.8,947.2 965.8,947.3 973.8,947.4 981.7,947.4 989.7,947.6 997.6,947.7 1005.5,948.0 1013.5,948.4 1021.4,948.9 1029.4,949.6 1037.5,950.5 1089.7,953.1 1145.7,956.2 1195.7,958.7 1255.7,961.4 1334.1,966.6 1432.7,970.5 1441.3,979.1 1342.7,975.2 1264.3,970.0 1204.3,967.3 1154.3,964.8 1098.3,961.7 1046.1,959.1 1038.0,958.2 1030.0,957.5 1022.1,957.0 1014.1,956.6 1006.2,956.3 998.3,956.2 990.3,956.0 982.4,956.0 974.4,955.9 966.4,955.8 958.4,955.6 950.3,955.3 942.1,955.0 933.9,954.5 925.6,953.7 917.5,952.7 909.5,951.2 901.8,949.2 894.4,946.6 887.4,943.2 881.0,939.1 875.1,934.2 869.7,928.5 864.9,922.3 860.5,915.7 856.6,908.6 853.1,901.3 849.9,893.8 846.8,886.2 843.7,878.6 840.7,871.1 837.7,863.5 834.8,856.0 831.9,848.5 829.0,841.0 826.2,833.5 823.4,826.0 820.6,818.6 817.8,811.1 815.1,803.6 812.4,796.1 809.6,788.7 806.9,781.2 804.3,773.7 801.6,766.2 798.9,758.7 796.2,751.2 793.5,743.6 790.9,736.1 788.2,728.6 785.6,721.0 782.9,713.5 780.3,705.9 777.6,698.4 775.0,690.8 772.3,683.3 769.7,675.7 767.0,668.1 764.4,660.5 761.7,653.0 759.1,645.4 756.4,637.8 753.8,630.3 751.1,622.7 748.4,615.1 745.8,607.5 743.1,600.0 740.4,592.4 737.7,584.9 735.0,577.3 732.3,569.7 729.6,562.2 726.9,554.7 724.2,547.1 721.4,539.6 718.6,532.1 715.8,524.6 713.0,517.1 710.1,509.7 707.2,502.2 704.3,494.8 701.3,487.3 698.3,479.9 695.3,472.5 692.2,465.2 689.1,457.8 685.9,450.5 682.7,443.2 679.4,435.9 676.1,428.7 672.7,421.4 669.2,414.2 665.7,407.0 662.1,399.9 658.5,392.8 654.7,385.7 651.0,378.6 647.1,371.6 643.2,364.6 639.3,357.6 635.3,350.6 631.2,343.7 627.2,336.7 623.1,329.8 619.0,323.0 614.8,316.1 610.6,309.2 606.5,302.4 602.3,295.6 598.1,288.7 593.9,281.9 589.7,275.1 585.4,268.4 581.0,261.7 576.5,255.2 571.7,248.8 566.5,242.7 561.0,236.9 555.1,231.3 545.4,226.6 535.7,222.0 525.9,217.6 516.1,213.3 506.2,209.2 496.2,205.1 486.2,201.1 476.2,197.2 466.1,193.4 456.1,189.6 446.0,185.9 435.8,182.2 425.7,178.5 415.6,174.9 405.4,171.2 395.3,167.5 385.2,163.8 375.1,160.1 365.0,156.3 354.9,152.5 344.9,148.5 334.9,144.5 324.9,140.5 315.0,136.3 305.1,131.9 295.3,127.5 285.6,122.9 275.9,118.2 266.3,113.3 257.7,111.1 253.3,112.3 250.7,114.3Z"/><path d="M242.1,105.7h8.6v8.6h-8.6ZM1432.7,970.5h8.6v8.6h-8.6Z"/></g>
<g fill="#008000"><path d="M250.7,79.1 257.4,79.8 264.1,80.5 270.8,81.2 277.5,81.9 284.2,82.5 291.0,83.1 297.7,83.7 304.4,84.2 311.2,84.8 317.9,85.3 324.6,85.8 331.4,86.3 338.1,86.7 344.9,87.2 351.7,87.7 358.4,88.2 365.2,88.6 371.9,89.1 378.7,89.5 385.4,90.0 392.2,90.5 399.0,91.0 405.7,91.5 412.5,92.0 419.2,92.5 426.0,93.0 432.7,93.6 439.5,94.2 446.2,94.8 452.9,95.4 459.7,96.1 466.4,96.7 473.1,97.5 479.8,98.2 486.5,99.0 493.2,99.8 499.9,100.7 506.6,101.6 513.3,102.5 520.0,103.5 526.6,104.5 533.3,105.6 539.9,106.8 546.6,108.1 553.1,109.5 559.7,111.0 566.2,112.8 572.6,114.7 579.0,116.8 585.3,119.1 591.5,121.7 597.6,124.5 603.7,127.6 609.6,130.8 615.5,134.3 621.2,137.9 626.8,141.8 632.3,145.8 637.7,150.0 642.9,154.4 648.0,158.9 653.0,163.6 657.8,168.5 662.4,173.5 666.9,178.6 671.2,183.9 675.3,189.3 679.2,194.8 683.0,200.4 686.5,206.1 689.8,211.9 693.0,217.9 696.0,223.8 698.9,229.9 701.6,236.0 704.2,242.2 706.7,248.5 709.1,254.8 711.5,261.1 713.7,267.5 716.0,273.8 718.2,280.2 720.4,286.6 722.6,293.0 724.8,299.4 727.1,305.8 729.3,312.2 731.6,318.5 733.9,324.9 736.3,331.2 738.6,337.5 740.9,343.9 743.3,350.2 745.6,356.5 748.0,362.9 750.3,369.2 752.7,375.5 755.0,381.9 757.3,388.2 759.6,394.6 761.9,400.9 764.2,407.3 766.5,413.7 768.7,420.1 771.0,426.4 773.2,432.8 775.4,439.2 777.7,445.6 779.9,452.0 782.0,458.4 784.2,464.8 786.3,471.3 788.5,477.7 790.6,484.1 792.7,490.5 794.8,497.0 796.8,503.4 798.9,509.9 800.9,516.3 802.9,522.8 804.9,529.2 806.8,535.7 808.8,542.1 810.7,548.6 812.6,555.1 814.5,561.5 816.4,568.0 818.3,574.5 820.2,581.0 822.1,587.4 824.0,593.9 825.9,600.4 827.8,606.8 829.7,613.3 831.7,619.8 833.6,626.2 835.6,632.7 837.5,639.1 839.5,645.6 841.5,652.0 843.6,658.4 845.6,664.9 847.7,671.3 849.9,677.7 852.0,684.1 854.2,690.5 856.4,696.9 858.7,703.2 861.0,709.6 863.4,715.9 865.8,722.3 868.2,728.6 870.7,734.9 873.3,741.2 875.9,747.5 878.6,753.8 881.3,760.1 884.1,766.3 887.0,772.5 889.9,778.7 892.9,784.9 896.1,790.9 899.6,796.7 903.2,802.2 907.2,807.4 911.5,812.3 916.3,816.7 921.5,820.6 927.1,823.9 933.2,826.8 939.6,829.1 946.3,831.1 953.2,832.6 960.1,833.8 967.1,834.7 974.0,835.4 980.8,835.8 987.4,836.0 993.7,836.1 1098.3,838.3 1184.3,839.9 1304.3,840.1 1424.3,840.1 1441.3,838.4 1432.7,847.0 1415.7,848.7 1295.7,848.7 1175.7,848.5 1089.7,846.9 985.1,844.7 978.8,844.6 972.2,844.4 965.4,844.0 958.5,843.3 951.5,842.4 944.6,841.2 937.7,839.7 931.0,837.7 924.6,835.4 918.5,832.5 912.9,829.2 907.7,825.3 902.9,820.9 898.6,816.0 894.6,810.8 891.0,805.3 887.5,799.5 884.3,793.5 881.3,787.3 878.4,781.1 875.5,774.9 872.7,768.7 870.0,762.4 867.3,756.1 864.7,749.8 862.1,743.5 859.6,737.2 857.2,730.9 854.8,724.5 852.4,718.2 850.1,711.8 847.8,705.5 845.6,699.1 843.4,692.7 841.3,686.3 839.1,679.9 837.0,673.5 835.0,667.0 832.9,660.6 830.9,654.2 828.9,647.7 827.0,641.3 825.0,634.8 823.1,628.4 821.1,621.9 819.2,615.4 817.3,609.0 815.4,602.5 813.5,596.0 811.6,589.6 809.7,583.1 807.8,576.6 805.9,570.1 804.0,563.7 802.1,557.2 800.2,550.7 798.2,544.3 796.3,537.8 794.3,531.4 792.3,524.9 790.3,518.5 788.2,512.0 786.2,505.6 784.1,499.1 782.0,492.7 779.9,486.3 777.7,479.9 775.6,473.4 773.4,467.0 771.3,460.6 769.1,454.2 766.8,447.8 764.6,441.4 762.4,435.0 760.1,428.7 757.9,422.3 755.6,415.9 753.3,409.5 751.0,403.2 748.7,396.8 746.4,390.5 744.1,384.1 741.7,377.8 739.4,371.5 737.0,365.1 734.7,358.8 732.3,352.5 730.0,346.1 727.7,339.8 725.3,333.5 723.0,327.1 720.7,320.8 718.5,314.4 716.2,308.0 714.0,301.6 711.8,295.2 709.6,288.8 707.4,282.4 705.1,276.1 702.9,269.7 700.5,263.4 698.1,257.1 695.6,250.8 693.0,244.6 690.3,238.5 687.4,232.4 684.4,226.5 681.2,220.5 677.9,214.7 674.4,209.0 670.6,203.4 666.7,197.9 662.6,192.5 658.3,187.2 653.8,182.1 649.2,177.1 644.4,172.2 639.4,167.5 634.3,163.0 629.1,158.6 623.7,154.4 618.2,150.4 612.6,146.5 606.9,142.9 601.0,139.4 595.1,136.2 589.0,133.1 582.9,130.3 576.7,127.7 570.4,125.4 564.0,123.3 557.6,121.4 551.1,119.6 544.5,118.1 538.0,116.7 531.3,115.4 524.7,114.2 518.0,113.1 511.4,112.1 504.7,111.1 498.0,110.2 491.3,109.3 484.6,108.4 477.9,107.6 471.2,106.8 464.5,106.1 457.8,105.3 451.1,104.7 444.3,104.0 437.6,103.4 430.9,102.8 424.1,102.2 417.4,101.6 410.6,101.1 403.9,100.6 397.1,100.1 390.4,99.6 383.6,99.1 376.8,98.6 370.1,98.1 363.3,97.7 356.6,97.2 349.8,96.8 343.1,96.3 336.3,95.8 329.5,95.3 322.8,94.9 316.0,94.4 309.3,93.9 302.6,93.4 295.8,92.8 289.1,92.3 282.4,91.7 275.6,91.1 268.9,90.5 262.2,89.8 255.5,89.1 248.8,88.4 242.1,87.7Z"/><path d="M242.1,79.1 248.8,79.8 255.5,80.5 262.2,81.2 268.9,81.9 275.6,82.5 282.4,83.1 289.1,83.7 295.8,84.2 302.6,84.8 309.3,85.3 316.0,85.8 322.8,86.3 329.5,86.7 336.3,87.2 343.1,87.7 349.8,88.2 356.6,88.6 363.3,89.1 370.1,89.5 376.8,90.0 383.6,90.5 390.4,91.0 397.1,91.5 403.9,92.0 410.6,92.5 417.4,93.0 424.1,93.6 430.9,94.2 437.6,94.8 444.3,95.4 451.1,96.1 457.8,96.7 464.5,97.5 471.2,98.2 477.9,99.0 484.6,99.8 491.3,100.7 498.0,101.6 504.7,102.5 511.4,103.5 518.0,104.5 524.7,105.6 531.3,106.8 538.0,108.1 544.5,109.5 551.1,111.0 557.6,112.8 564.0,114.7 570.4,116.8 576.7,119.1 582.9,121.7 589.0,124.5 595.1,127.6 601.0,130.8 606.9,134.3 612.6,137.9 618.2,141.8 623.7,145.8 629.1,150.0 634.3,154.4 639.4,158.9 644.4,163.6 649.2,168.5 653.8,173.5 658.3,178.6 662.6,183.9 666.7,189.3 670.6,194.8 674.4,200.4 677.9,206.1 681.2,211.9 684.4,217.9 687.4,223.8 690.3,229.9 693.0,236.0 695.6,242.2 698.1,248.5 700.5,254.8 702.9,261.1 705.1,267.5 707.4,273.8 709.6,280.2 711.8,286.6 714.0,293.0 716.2,299.4 718.5,305.8 720.7,312.2 723.0,318.5 725.3,324.9 727.7,331.2 730.0,337.5 732.3,343.9 734.7,350.2 737.0,356.5 739.4,362.9 741.7,369.2 744.1,375.5 746.4,381.9 748.7,388.2 751.0,394.6 753.3,400.9 755.6,407.3 757.9,413.7 760.1,420.1 762.4,426.4 764.6,432.8 766.8,439.2 769.1,445.6 771.3,452.0 773.4,458.4 775.6,464.8 777.7,471.3 779.9,477.7 782.0,484.1 784.1,490.5 786.2,497.0 788.2,503.4 790.3,509.9 792.3,516.3 794.3,522.8 796.3,529.2 798.2,535.7 800.2,542.1 802.1,548.6 804.0,555.1 805.9,561.5 807.8,568.0 809.7,574.5 811.6,581.0 813.5,587.4 815.4,593.9 817.3,600.4 819.2,606.8 821.1,613.3 823.1,619.8 825.0,626.2 827.0,632.7 828.9,639.1 830.9,645.6 832.9,652.0 835.0,658.4 837.0,664.9 839.1,671.3 841.3,677.7 843.4,684.1 845.6,690.5 847.8,696.9 850.1,703.2 852.4,709.6 854.8,715.9 857.2,722.3 859.6,728.6 862.1,734.9 864.7,741.2 867.3,747.5 870.0,753.8 872.7,760.1 875.5,766.3 878.4,772.5 881.3,778.7 884.3,784.9 887.5,790.9 891.0,796.7 894.6,802.2 898.6,807.4 902.9,812.3 907.7,816.7 912.9,820.6 918.5,823.9 924.6,826.8 931.0,829.1 937.7,831.1 944.6,832.6 951.5,833.8 958.5,834.7 965.4,835.4 972.2,835.8 978.8,836.0 985.1,836.1 1089.7,838.3 1175.7,839.9 1295.7,840.1 1415.7,840.1 1432.7,838.4 1441.3,847.0 1424.3,848.7 1304.3,848.7 1184.3,848.5 1098.3,846.9 993.7,844.7 987.4,844.6 980.8,844.4 974.0,844.0 967.1,843.3 960.1,842.4 953.2,841.2 946.3,839.7 939.6,837.7 933.2,835.4 927.1,832.5 921.5,829.2 916.3,825.3 911.5,820.9 907.2,816.0 903.2,810.8 899.6,805.3 896.1,799.5 892.9,793.5 889.9,787.3 887.0,781.1 884.1,774.9 881.3,768.7 878.6,762.4 875.9,756.1 873.3,749.8 870.7,743.5 868.2,737.2 865.8,730.9 863.4,724.5 861.0,718.2 858.7,711.8 856.4,705.5 854.2,699.1 852.0,692.7 849.9,686.3 847.7,679.9 845.6,673.5 843.6,667.0 841.5,660.6 839.5,654.2 837.5,647.7 835.6,641.3 833.6,634.8 831.7,628.4 829.7,621.9 827.8,615.4 825.9,609.0 824.0,602.5 822.1,596.0 820.2,589.6 818.3,583.1 816.4,576.6 814.5,570.1 812.6,563.7 810.7,557.2 808.8,550.7 806.8,544.3 804.9,537.8 802.9,531.4 800.9,524.9 798.9,518.5 796.8,512.0 794.8,505.6 792.7,499.1 790.6,492.7 788.5,486.3 786.3,479.9 784.2,473.4 782.0,467.0 779.9,460.6 777.7,454.2 775.4,447.8 773.2,441.4 771.0,435.0 768.7,428.7 766.5,422.3 764.2,415.9 761.9,409.5 759.6,403.2 757.3,396.8 755.0,390.5 752.7,384.1 750.3,377.8 748.0,371.5 745.6,365.1 743.3,358.8 740.9,352.5 738.6,346.1 736.3,339.8 733.9,333.5 731.6,327.1 729.3,320.8 727.1,314.4 724.8,308.0 722.6,301.6 720.4,295.2 718.2,288.8 716.0,282.4 713.7,276.1 711.5,269.7 709.1,263.4 706.7,257.1 704.2,250.8 701.6,244.6 698.9,238.5 696.0,232.4 693.0,226.5 689.8,220.5 686.5,214.7 683.0,209.0 679.2,203.4 675.3,197.9 671.2,192.5 666.9,187.2 662.4,182.1 657.8,177.1 653.0,172.2 648.0,167.5 642.9,163.0 637.7,158.6 632.3,154.4 626.8,150.4 621.2,146.5 615.5,142.9 609.6,139.4 603.7,136.2 597.6,133.1 591.5,130.3 585.3,127.7 579.0,125.4 572.6,123.3 566.2,121.4 559.7,119.6 553.1,118.1 546.6,116.7 539.9,115.4 533.3,114.2 526.6,113.1 520.0,112.1 513.3,111.1 506.6,110.2 499.9,109.3 493.2,108.4 486.5,107.6 479.8,106.8 473.1,106.1 466.4,105.3 459.7,104.7 452.9,104.0 446.2,103.4 439.5,102.8 432.7,102.2 426.0,101.6 419.2,101.1 412.5,100.6 405.7,100.1 399.0,99.6 392.2,99.1 385.4,98.6 378.7,98.1 371.9,97.7 365.2,97.2 358.4,96.8 351.7,96.3 344.9,95.8 338.1,95.3 331.4,94.9 324.6,94.4 317.9,93.9 311.2,93.4 304.4,92.8 297.7,92.3 291.0,91.7 284.2,91.1 277.5,90.5 270.8,89.8 264.1,89.1 257.4,88.4 250.7,87.7Z"/><path d="M242.1,79.1h8.6v8.6h-8.6ZM1432.7,838.4h8.6v8.6h-8.6Z"/></g>
<path d="M241.6,74.8h8.4v8.4h-8.4ZM256.9,75.8h8.4v8.4h-8.4ZM272.1,76.6h8.4v8.4h-8.4ZM287.4,77.4h8.4v8.4h-8.4ZM302.7,78.1h8.4v8.4h-8.4ZM318.0,78.7h8.4v8.4h-8.4ZM333.3,79.3h8.4v8.4h-8.4ZM348.6,79.9h8.4v8.4h-8.4ZM363.9,80.6h8.4v8.4h-8.4ZM379.1,81.4h8.4v8.4h-8.4ZM394.4,82.3h8.4v8.4h-8.4ZM409.7,83.3h8.4v8.4h-8.4ZM424.9,84.5h8.4v8.4h-8.4ZM440.2,85.8h8.4v8.4h-8.4ZM455.4,87.3h8.4v8.4h-8.4ZM470.6,88.7h8.4v8.4h-8.4ZM485.9,90.1h8.4v8.4h-8.4ZM501.1,91.6h8.4v8.4h-8.4ZM516.2,94.2h8.4v8.4h-8.4ZM530.7,98.9h8.4v8.4h-8.4ZM543.9,106.5h8.4v8.4h-8.4ZM555.5,116.5h8.4v8.4h-8.4ZM567.2,129.8h8.4v8.4h-8.4ZM577.5,144.2h8.4v8.4h-8.4ZM586.5,159.4h8.4v8.4h-8.4ZM594.4,175.2h8.4v8.4h-8.4ZM601.3,191.5h8.4v8.4h-8.4ZM607.2,208.2h8.4v8.4h-8.4ZM612.1,225.2h8.4v8.4h-8.4ZM616.4,242.4h8.4v8.4h-8.4ZM620.0,259.7h8.4v8.4h-8.4ZM623.1,277.1h8.4v8.4h-8.4ZM625.8,294.6h8.4v8.4h-8.4ZM628.3,312.2h8.4v8.4h-8.4ZM630.6,329.7h8.4v8.4h-8.4ZM632.7,347.3h8.4v8.4h-8.4ZM634.9,364.8h8.4v8.4h-8.4ZM636.9,382.4h8.4v8.4h-8.4ZM638.8,400.0h8.4v8.4h-8.4ZM640.7,417.6h8.4v8.4h-8.4ZM642.6,435.2h8.4v8.4h-8.4ZM644.4,452.8h8.4v8.4h-8.4ZM646.1,470.4h8.4v8.4h-8.4ZM647.8,488.1h8.4v8.4h-8.4ZM649.5,505.7h8.4v8.4h-8.4ZM651.1,523.3h8.4v8.4h-8.4ZM652.7,540.9h8.4v8.4h-8.4ZM654.3,558.6h8.4v8.4h-8.4ZM655.9,576.2h8.4v8.4h-8.4ZM657.4,593.8h8.4v8.4h-8.4ZM659.0,611.5h8.4v8.4h-8.4ZM660.7,629.1h8.4v8.4h-8.4ZM662.6,646.7h8.4v8.4h-8.4ZM664.7,664.2h8.4v8.4h-8.4ZM667.2,681.8h8.4v8.4h-8.4ZM670.2,699.2h8.4v8.4h-8.4ZM673.7,716.6h8.4v8.4h-8.4ZM677.9,733.8h8.4v8.4h-8.4ZM682.8,750.8h8.4v8.4h-8.4ZM688.5,767.5h8.4v8.4h-8.4ZM695.0,784.0h8.4v8.4h-8.4ZM702.5,800.0h8.4v8.4h-8.4ZM711.0,815.5h8.4v8.4h-8.4ZM720.9,830.2h8.4v8.4h-8.4ZM732.8,843.2h8.4v8.4h-8.4ZM746.6,854.3h8.4v8.4h-8.4ZM761.5,863.9h8.4v8.4h-8.4ZM776.9,872.6h8.4v8.4h-8.4ZM792.5,881.0h8.4v8.4h-8.4ZM808.0,889.5h8.4v8.4h-8.4ZM823.0,898.8h8.4v8.4h-8.4ZM837.3,909.3h8.4v8.4h-8.4ZM850.4,921.1h8.4v8.4h-8.4ZM863.1,933.5h8.4v8.4h-8.4ZM876.0,945.6h8.4v8.4h-8.4ZM889.9,956.5h8.4v8.4h-8.4ZM906.3,963.0h8.4v8.4h-8.4ZM923.9,962.9h8.4v8.4h-8.4ZM941.5,961.4h8.4v8.4h-8.4ZM959.2,961.4h8.4v8.4h-8.4ZM976.9,961.4h8.4v8.4h-8.4ZM994.6,961.4h8.4v8.4h-8.4ZM1012.3,961.4h8.4v8.4h-8.4ZM1030.0,961.4h8.4v8.4h-8.4ZM1047.7,961.4h8.4v8.4h-8.4ZM1065.4,961.4h8.4v8.4h-8.4ZM1083.1,961.4h8.4v8.4h-8.4ZM1100.8,961.4h8.4v8.4h-8.4ZM1118.5,961.4h8.4v8.4h-8.4ZM1136.2,961.4h8.4v8.4h-8.4ZM1153.9,961.4h8.4v8.4h-8.4ZM1171.6,961.4h8.4v8.4h-8.4ZM1189.3,961.4h8.4v8.4h-8.4ZM1207.0,961.4h8.4v8.4h-8.4ZM1224.7,961.4h8.4v8.4h-8.4ZM1242.4,961.4h8.4v8.4h-8.4ZM1260.1,961.4h8.4v8.4h-8.4ZM1277.8,961.4h8.4v8.4h-8.4ZM1295.5,961.4h8.4v8.4h-8.4ZM1313.2,961.4h8.4v8.4h-8.4ZM1330.9,961.4h8.4v8.4h-8.4ZM1348.6,961.4h8.4v8.4h-8.4ZM1366.3,961.4h8.4v8.4h-8.4ZM1384.0,961.4h8.4v8.4h-8.4ZM1401.7,961.4h8.4v8.4h-8.4ZM1419.4,961.4h8.4v8.4h-8.4ZM1432.3,961.4h8.4v8.4h-8.4Z" fill="#990000"/>
<path d="M246.4,89.0 L252.4,89.7 L258.5,90.3 L264.5,91.0 L270.5,91.6 L276.6,92.1 L282.6,92.7 L288.7,93.2 L294.7,93.7 L300.8,94.2 L306.8,94.7 L312.9,95.2 L319.0,95.7 L325.0,96.1 L331.1,96.5 L337.2,97.0 L343.3,97.4 L349.3,97.8 L355.4,98.2 L361.5,98.6 L367.6,99.0 L373.6,99.4 L379.7,99.8 L385.8,100.3 L391.9,100.7 L397.9,101.1 L404.0,101.6 L410.1,102.0 L416.1,102.5 L422.2,103.0 L428.3,103.4 L434.3,104.0 L440.4,104.5 L446.5,105.0 L452.5,105.6 L458.6,106.2 L464.6,106.8 L470.7,107.5 L476.7,108.2 L482.7,108.9 L488.8,109.6 L494.8,110.4 L500.8,111.2 L506.8,112.0 L512.9,112.9 L518.9,113.8 L524.9,114.8 L530.9,115.8 L536.8,116.9 L542.8,118.1" fill="none" stroke="#f0f" stroke-width="3.4" stroke-dasharray="8 20" stroke-dashoffset="-6"/>
<line x1="550.0" y1="110.8" x2="952.0" y2="110.8" stroke="#008c00" stroke-width="4.5" stroke-dasharray="16 5 5 4"/>
<line x1="949.5" y1="108.0" x2="949.5" y2="836.0" stroke="#008c00" stroke-width="5.5" stroke-dasharray="6 2.5"/>
<line x1="678.0" y1="147.0" x2="958.0" y2="147.0" stroke="#000" stroke-width="4.5" stroke-dasharray="16 5 5 4"/>
<line x1="955.8" y1="147.0" x2="955.8" y2="786.0" stroke="#000" stroke-width="4.6" stroke-dasharray="5 3.5"/>
<line x1="540.0" y1="846.0" x2="895.0" y2="846.0" stroke="#f00" stroke-width="4.8" stroke-dasharray="16 5 5 4"/>
<line x1="549.0" y1="186.0" x2="549.0" y2="846.0" stroke="#f00" stroke-width="5" stroke-dasharray="6 4"/>
<line x1="554.8" y1="232.0" x2="554.8" y2="953.0" stroke="#00f" stroke-width="4.8" stroke-dasharray="14 3 4 3"/>
<line x1="549.0" y1="946.5" x2="877.0" y2="946.5" stroke="#00f" stroke-width="4.8" stroke-dasharray="16 5 5 4"/>
<path d="M451.3,262.5 L527.7,160.3" stroke="#990000" stroke-width="5" fill="none"/>
<path d="M560.0,117.0 L538.9,168.6 L516.5,151.9 Z" fill="#990000"/>
<path d="M454.0,271.7 L510.2,222.3" stroke="#f00" stroke-width="5" fill="none"/>
<path d="M550.8,186.6 L519.5,232.8 L501.0,211.7 Z" fill="#f00"/>
<path d="M457.9,274.3 L508.0,251.7" stroke="#00f" stroke-width="5" fill="none"/>
<path d="M550.8,232.4 L513.7,264.5 L502.2,239.0 Z" fill="#00f"/>
<path d="M667.8,87.0 L655.5,94.9" stroke="#008000" stroke-width="5" fill="none"/>
<path d="M610.2,124.3 L647.9,83.2 L663.1,106.7 Z" fill="#008000"/>
<path d="M773.8,103.4 L723.6,122.0" stroke="#000" stroke-width="5" fill="none"/>
<path d="M673.0,140.8 L718.8,108.9 L728.5,135.1 Z" fill="#000"/>
<path d="M1007.0,682.5 L979.8,735.2" stroke="#000" stroke-width="5" fill="none"/>
<path d="M955.0,783.2 L967.3,728.8 L992.2,741.6 Z" fill="#000"/>
<path d="M1215.6,714.3 L1215.6,799.0" stroke="#f00" stroke-width="5" fill="none"/>
<path d="M1215.6,851.0 L1201.6,799.0 L1229.6,799.0 Z" fill="#f00"/>
<path d="M1356.5,746.9 L1356.5,899.0" stroke="#f00" stroke-width="5" fill="none"/>
<path d="M1356.5,950.0 L1342.5,899.0 L1370.5,899.0 Z" fill="#f00"/>
<path d="M732.5,920.8 L816.0,930.2" stroke="#00f" stroke-width="5" fill="none"/>
<path d="M871.6,936.5 L814.3,945.1 L817.6,915.3 Z" fill="#00f"/>
<text transform="translate(361.5,311.6) scale(0.9835,1)" font-size="56.8" fill="#000" stroke="#000" stroke-width="1.7" stroke-linejoin="round">260</text>
<text transform="translate(778.8,98.0) scale(0.9855,1)" font-size="57.2" fill="#000" stroke="#000" stroke-width="1.4" stroke-linejoin="round">330</text>
<text transform="translate(982.9,667.8) scale(0.9984,1)" font-size="57.3" fill="#000" stroke="#000" stroke-width="1.2" stroke-linejoin="round">530</text>
<text transform="translate(831.3,418.7) scale(0.9316,1)" font-size="58.6" fill="#000" stroke="#000" stroke-width="1.2" stroke-linejoin="round">78%</text>
<text transform="translate(674.2,89.8) scale(0.9056,1)" font-size="60.4" fill="#008c00" font-weight="bold">300</text>
<text transform="translate(835.5,285.6) scale(0.9064,1)" font-size="60.3" fill="#008c00" font-weight="bold">81%</text>
<text transform="translate(430.7,668.8) scale(0.9462,1)" font-size="59.6" fill="#f00" font-weight="bold">75%</text>
<text transform="translate(425.7,906.8) scale(0.9380,1)" font-size="60.3" fill="#00f" font-weight="bold">82%</text>
<text transform="translate(623.0,928.4) scale(0.9696,1)" font-size="60.3" fill="#00f" font-weight="bold">490</text>
<text transform="translate(996.4,934.6) scale(0.9617,1)" font-size="57.6" fill="#00f" stroke="#00f" stroke-width="1.4" stroke-linejoin="round">3%</text>
<text transform="translate(1155.1,924.6) scale(0.9258,1)" font-size="59.2" fill="#f00" font-weight="bold">12%</text>
<text transform="translate(1371.9,933.0) scale(0.9223,1)" font-size="59.2" fill="#f00" font-weight="bold">1%</text>
<text transform="translate(1165.9,685.7) scale(0.9991,1)" font-size="58.0" fill="#f00" stroke="#f00" stroke-width="1.6" stroke-linejoin="round">730</text>
<text transform="translate(1317.7,688.8) scale(0.9928,1)" font-size="58.0" fill="#f00" stroke="#f00" stroke-width="1.6" stroke-linejoin="round">830</text>
<text transform="translate(1047.6,106.9) scale(0.9970,1)" font-size="61.9" fill="#000" font-weight="bold">Raw SWCNTs</text>
<text transform="translate(1048.5,191.9) scale(0.9533,1)" font-size="62.0" fill="#000" font-weight="bold">LPE</text>
<text transform="translate(1048.4,276.9) scale(0.9633,1)" font-size="62.0" fill="#000" font-weight="bold">ppt LPE</text>
<text transform="translate(1048.4,360.6) scale(0.9654,1)" font-size="62.0" fill="#000" font-weight="bold">DLPE</text>
<text transform="translate(1048.4,444.9) scale(0.9706,1)" font-size="62.0" fill="#000" font-weight="bold">ppt DLPE</text>
<text transform="translate(1048.4,530.9) scale(0.9744,1)" font-size="62.0" fill="#000" font-weight="bold">Polymer</text>
<text transform="translate(705.4,1122.7) scale(0.9631,1)" font-size="57.7" fill="#000" font-weight="bold">Temp. (°C)</text>
<text transform="translate(187.8,1059.5) scale(1.0178,1)" font-size="56.9" fill="#000" stroke="#000" stroke-width="1.5" stroke-linejoin="round">0</text>
<text transform="translate(364.5,1059.5) scale(1.0182,1)" font-size="56.9" fill="#000" stroke="#000" stroke-width="1.5" stroke-linejoin="round">150</text>
<text transform="translate(576.4,1059.5) scale(0.9926,1)" font-size="56.9" fill="#000" stroke="#000" stroke-width="1.5" stroke-linejoin="round">300</text>
<text transform="translate(787.0,1059.5) scale(0.9802,1)" font-size="56.9" fill="#000" stroke="#000" stroke-width="1.5" stroke-linejoin="round">450</text>
<text transform="translate(994.7,1059.5) scale(0.9988,1)" font-size="56.9" fill="#000" stroke="#000" stroke-width="1.5" stroke-linejoin="round">600</text>
<text transform="translate(1204.2,1059.5) scale(0.9988,1)" font-size="56.9" fill="#000" stroke="#000" stroke-width="1.5" stroke-linejoin="round">750</text>
<text transform="translate(1413.7,1059.5) scale(0.9988,1)" font-size="56.9" fill="#000" stroke="#000" stroke-width="1.5" stroke-linejoin="round">900</text>
<text transform="translate(129.9,983.9) scale(1.0153,1)" font-size="57.0" fill="#000" stroke="#000" stroke-width="1.5" stroke-linejoin="round">0</text>
<text transform="translate(99.6,805.1) scale(0.9900,1)" font-size="57.0" fill="#000" stroke="#000" stroke-width="1.5" stroke-linejoin="round">20</text>
<text transform="translate(101.4,628.1) scale(0.9617,1)" font-size="57.0" fill="#000" stroke="#000" stroke-width="1.5" stroke-linejoin="round">40</text>
<text transform="translate(99.6,450.1) scale(0.9900,1)" font-size="57.0" fill="#000" stroke="#000" stroke-width="1.5" stroke-linejoin="round">60</text>
<text transform="translate(100.2,269.8) scale(0.9804,1)" font-size="57.0" fill="#000" stroke="#000" stroke-width="1.5" stroke-linejoin="round">80</text>
<text transform="translate(65.9,91.6) scale(1.0123,1)" font-size="57.0" fill="#000" stroke="#000" stroke-width="1.5" stroke-linejoin="round">100</text>
<text transform="translate(82.0,705.8) rotate(-90) scale(0.9421,1)" font-size="60.6" font-weight="bold">Weight loss (%)</text>
<rect x="1003.4" y="101.3" width="34" height="9.4" fill="#000"/>
<rect x="1003.4" y="186.3" width="34" height="9.4" fill="#f00"/>
<rect x="1003.4" y="271.3" width="34" height="9.4" fill="#f0f"/>
<rect x="1003.4" y="355.3" width="34" height="9.4" fill="#00f"/>
<rect x="1003.4" y="439.3" width="34" height="9.4" fill="#008000"/>
<circle cx="1008" cy="528.5" r="4.3" fill="#990000"/><circle cx="1026" cy="528.5" r="4.3" fill="#990000"/>
</g></svg></body></html>
